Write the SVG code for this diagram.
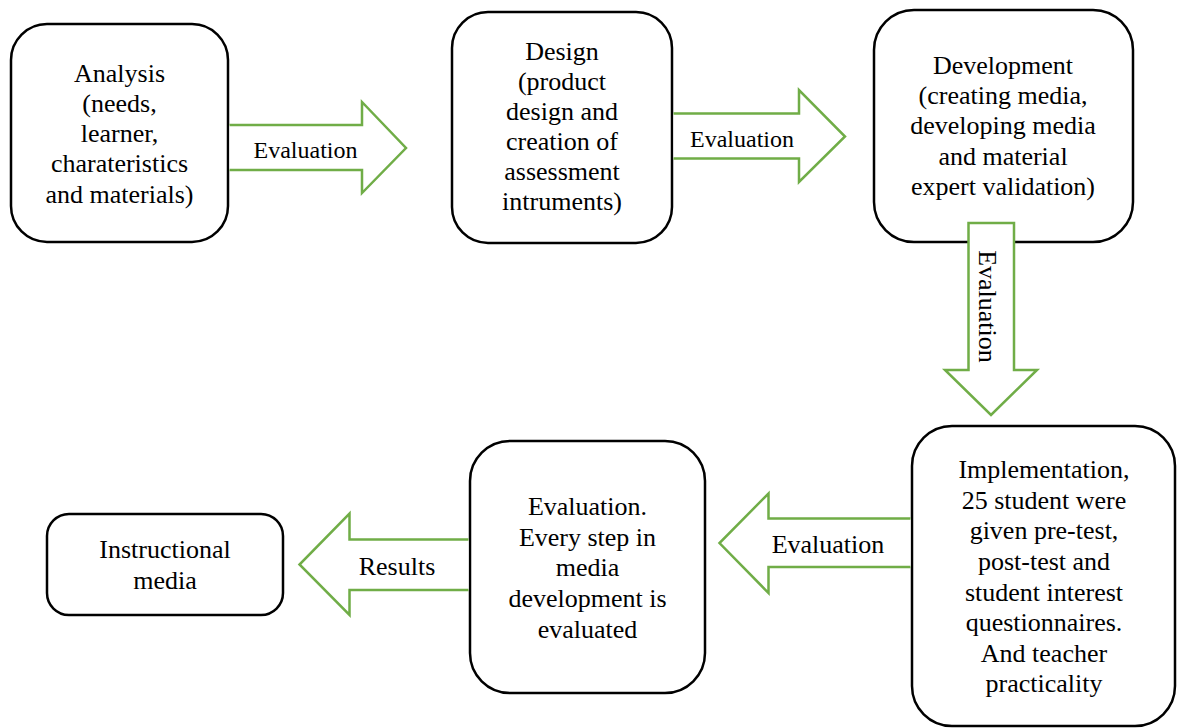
<svg xmlns="http://www.w3.org/2000/svg" width="1180" height="728" viewBox="0 0 1180 728">
<style>
.box{fill:#fff;stroke:#000;stroke-width:2.5}
.arr{fill:#fff;stroke:#70AD47;stroke-width:2.5;stroke-linejoin:miter}
.t{font-family:"Liberation Serif","Times New Roman",serif;font-size:26px;fill:#000;text-anchor:middle}
.lb{font-family:"Liberation Serif","Times New Roman",serif;font-size:24px;fill:#000;text-anchor:middle}
</style>
<rect width="1180" height="728" fill="#fff"/>
<g id="analysis">
<rect class="box" x="11" y="24" width="217" height="218" rx="36"/>
<text class="t"><tspan x="119.5" y="81.5">Analysis</tspan><tspan x="119.5" y="111.8">(needs,</tspan><tspan x="119.5" y="142">learner,</tspan><tspan x="119.5" y="172.4">charateristics</tspan><tspan x="119.5" y="202.7">and materials)</tspan></text>
</g>
<g id="design">
<rect class="box" x="452" y="12" width="220" height="231" rx="36"/>
<text class="t"><tspan x="562" y="60">Design</tspan><tspan x="562" y="90">(product</tspan><tspan x="562" y="120">design and</tspan><tspan x="562" y="150">creation of</tspan><tspan x="562" y="180">assessment</tspan><tspan x="562" y="210">intruments)</tspan></text>
</g>
<g id="development">
<rect class="box" x="874" y="10" width="259" height="232" rx="40"/>
<text class="t"><tspan x="1003" y="74">Development</tspan><tspan x="1003" y="104">(creating media,</tspan><tspan x="1003" y="134">developing media</tspan><tspan x="1003" y="164.5">and material</tspan><tspan x="1003" y="195">expert validation)</tspan></text>
</g>
<g id="implementation">
<rect class="box" x="912" y="426" width="263" height="300" rx="40"/>
<text class="t"><tspan x="1044" y="478">Implementation,</tspan><tspan x="1044" y="508.6">25 student were</tspan><tspan x="1044" y="539">given pre-test,</tspan><tspan x="1044" y="570">post-test and</tspan><tspan x="1044" y="600.5">student interest</tspan><tspan x="1044" y="631">questionnaires.</tspan><tspan x="1044" y="661.5">And teacher</tspan><tspan x="1044" y="692">practicality</tspan></text>
</g>
<g id="evaluation">
<rect class="box" x="470" y="441" width="235" height="252" rx="40"/>
<text class="t"><tspan x="587.5" y="515">Evaluation.</tspan><tspan x="587.5" y="545.5">Every step in</tspan><tspan x="587.5" y="576">media</tspan><tspan x="587.5" y="607">development is</tspan><tspan x="587.5" y="638">evaluated</tspan></text>
</g>
<g id="instructional-media">
<rect class="box" x="47" y="514" width="236" height="101" rx="22"/>
<text class="t"><tspan x="165" y="557.5">Instructional</tspan><tspan x="165" y="588.5">media</tspan></text>
</g>
<g id="connectors">
<g id="arrow-analysis-design">
<path class="arr" d="M229.5,125 L362,125 L362,102 L406,148 L362,193 L362,170 L229.5,170"/>
<text class="lb" x="305.5" y="158">Evaluation</text>
</g>
<g id="arrow-design-development">
<path class="arr" d="M673.5,113.5 L799,113.5 L799,90 L845,136.5 L799,182 L799,158.5 L673.5,158.5"/>
<text class="lb" x="742" y="146.5">Evaluation</text>
</g>
<g id="arrow-development-implementation">
<path class="arr" d="M968.5,223 L1014,223 L1014,370 L1037,370 L991,415 L945,370 L968.5,370 Z"/>
<text class="t" transform="translate(978.5,306.5) rotate(90)" x="0" y="0">Evaluation</text>
</g>
<g id="arrow-implementation-evaluation">
<path class="arr" d="M910.5,518.5 L768.5,518.5 L768.5,493.5 L719.5,543 L768.5,593 L768.5,567 L910.5,567"/>
<text class="t" x="828" y="553">Evaluation</text>
</g>
<g id="arrow-evaluation-media">
<path class="arr" d="M468.5,539.5 L349.5,539.5 L349.5,513.5 L299.5,564.5 L349.5,615 L349.5,590 L468.5,590"/>
<text class="t" x="397" y="575">Results</text>
</g>
</g>
</svg>
